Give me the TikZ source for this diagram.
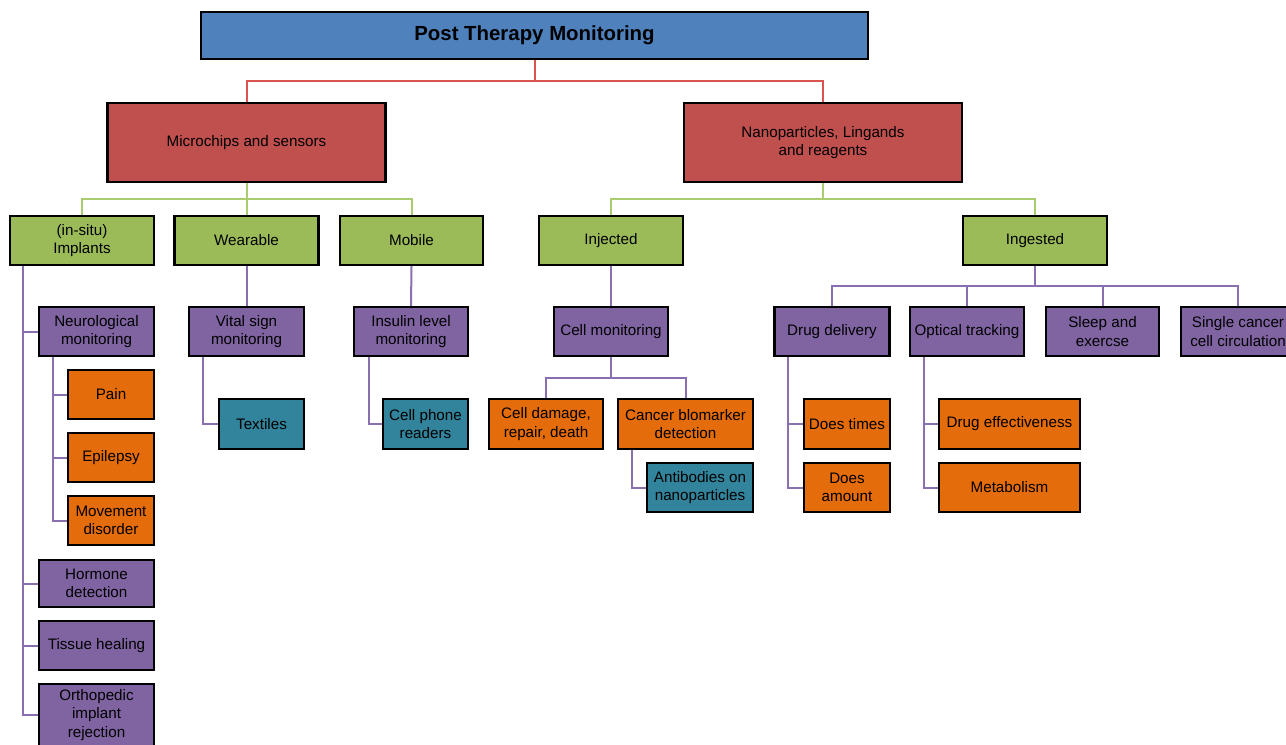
\documentclass[tikz,border=0pt]{standalone}
\usepackage{fontspec}
\setmainfont{Liberation Sans}
\definecolor{boxblue}{HTML}{4F81BD}
\definecolor{boxred}{HTML}{C0504D}
\definecolor{boxgreen}{HTML}{9BBB59}
\definecolor{boxpurple}{HTML}{8064A2}
\definecolor{boxorange}{HTML}{E46C0A}
\definecolor{boxteal}{HTML}{31849B}
\definecolor{linered}{HTML}{D9534F}
\definecolor{linegreen}{HTML}{A8CC6E}
\definecolor{linepurple}{HTML}{8A6FB0}

\tikzset{every picture/.style={line width=0.75pt}}
\tikzset{
  box/.style={draw=black, line width=1.8pt, inner sep=0pt, align=center,
    font=\fontsize{11.4}{13.7}\selectfont},
  boxsize/.style 2 args={minimum width=#1*0.75pt, minimum height=#2*0.75pt},
  bluebox/.style={box, fill=boxblue},
  redbox/.style={box, fill=boxred},
  greenbox/.style={box, fill=boxgreen},
  purplebox/.style={box, fill=boxpurple},
  orangebox/.style={box, fill=boxorange},
  tealbox/.style={box, fill=boxteal},
  redline/.style={draw=linered, line width=1.5pt},
  greenline/.style={draw=linegreen, line width=1.5pt},
  purpleline/.style={draw=linepurple, line width=1.5pt},
}

\begin{document}
\begin{tikzpicture}[x=0.75pt,y=0.75pt,yscale=-1,xscale=1]
	\useasboundingbox (0,0) rectangle (1286,744);
	\clip (0,0) rectangle (1286,744);

	%Bus points
	\coordinate (rbus) at (534.5,81);
	\coordinate (gbusl) at (246.5,199);
	\coordinate (gbusr) at (823,199);
	\coordinate (cbus) at (611,378);
	\coordinate (pbus) at (1035,286);

	%Shape: Rectangle [title]
	\node [bluebox, boxsize={667}{47}, font=\fontsize{15.3}{18}\selectfont\bfseries] (title) at (534.5,35.5) {Post Therapy Monitoring};

	%Shape: Rectangle [second level]
	\node [redbox, boxsize={278}{79}] (micro) at (246.5,142.5) {Microchips and sensors};
	\node [redbox, boxsize={278}{79}] (nano) at (823,142.5) {Nanoparticles, Lingands\\and reagents};

	%Shape: Rectangle [third level]
	\node [greenbox, boxsize={144}{49}] (implants) at (82,240.5) {(in-situ)\\Implants};
	\node [greenbox, boxsize={144}{49}] (wearable) at (246.5,240.5) {Wearable};
	\node [greenbox, boxsize={143}{49}] (mobile) at (411.5,240.5) {Mobile};
	\node [greenbox, boxsize={144}{49}] (injected) at (611,240.5) {Injected};
	\node [greenbox, boxsize={144}{49}] (ingested) at (1035,240.5) {Ingested};

	%Shape: Rectangle [implants branch]
	\node [purplebox, boxsize={115}{49}] (neuro) at (96.5,331.5) {Neurological\\monitoring};
	\node [orangebox, boxsize={86}{49}] (pain) at (111,394.5) {Pain};
	\node [orangebox, boxsize={86}{49}] (epilepsy) at (111,457.5) {Epilepsy};
	\node [orangebox, boxsize={86}{49}] (movement) at (111,520.5) {Movement\\disorder};
	\node [purplebox, boxsize={115}{47}] (hormone) at (96.5,583.5) {Hormone\\detection};
	\node [purplebox, boxsize={115}{49}] (tissue) at (96.5,645.5) {Tissue healing};
	\node [purplebox, boxsize={115}{62}] (ortho) at (96.5,715) {Orthopedic\\implant\\rejection};

	%Shape: Rectangle [wearable and mobile branch]
	\node [purplebox, boxsize={115}{49}] (vital) at (246.5,331.5) {Vital sign\\monitoring};
	\node [tealbox, boxsize={85}{50}] (textiles) at (261.5,424) {Textiles};
	\node [purplebox, boxsize={114}{49}] (insulin) at (411,331.5) {Insulin level\\monitoring};
	\node [tealbox, boxsize={85}{50}] (cellphone) at (425.5,424) {Cell phone\\readers};

	%Shape: Rectangle [injected branch]
	\node [purplebox, boxsize={114}{49}] (cellmon) at (611,331.5) {Cell monitoring};
	\node [orangebox, boxsize={114}{50}] (damage) at (546,424) {Cell damage,\\repair, death};
	\node [orangebox, boxsize={135}{50}] (cancer) at (685.5,424) {Cancer blomarker\\detection};
	\node [tealbox, boxsize={106}{49}] (antibodies) at (700,487.5) {Antibodies on\\nanoparticles};

	%Shape: Rectangle [ingested branch]
	\node [purplebox, boxsize={115}{49}] (drugdel) at (832,331.5) {Drug delivery};
	\node [purplebox, boxsize={114}{49}] (optical) at (967,331.5) {Optical tracking};
	\node [purplebox, boxsize={113}{49}] (sleep) at (1102.5,331.5) {Sleep and\\exercse};
	\node [purplebox, boxsize={114}{49}] (single) at (1238,331.5) {Single cancer\\cell circulation};
	\node [orangebox, boxsize={86}{50}] (doestimes) at (847,424) {Does times};
	\node [orangebox, boxsize={86}{49}] (doesamount) at (847,487.5) {Does\\amount};
	\node [orangebox, boxsize={141}{50}] (drugeff) at (1009.5,424) {Drug effectiveness};
	\node [orangebox, boxsize={141}{49}] (metab) at (1009.5,487.5) {Metabolism};

	%Connectors
	\draw [redline] (title.south) -- (rbus);
	\draw [redline] (micro.north) |- (rbus) -| (nano.north);

	\draw [greenline] (micro.south) -- (wearable.north);
	\draw [greenline] (implants.north) |- (gbusl) -| (mobile.north);
	\draw [greenline] (nano.south) -- (gbusr);
	\draw [greenline] (injected.north) |- (gbusr) -| (ingested.north);

	\draw [purpleline] ([xshift=10.5pt]implants.south west) |- (ortho.west);
	\draw [purpleline] ([xshift=10.5pt]implants.south west) |- (neuro.west);
	\draw [purpleline] ([xshift=10.5pt]implants.south west) |- (hormone.west);
	\draw [purpleline] ([xshift=10.5pt]implants.south west) |- (tissue.west);
	\draw [purpleline] ([xshift=11.25pt]neuro.south west) |- (movement.west);
	\draw [purpleline] ([xshift=11.25pt]neuro.south west) |- (pain.west);
	\draw [purpleline] ([xshift=11.25pt]neuro.south west) |- (epilepsy.west);

	\draw [purpleline] (wearable.south) -- (vital.north);
	\draw [purpleline] ([xshift=11.25pt]vital.south west) |- (textiles.west);
	\draw [purpleline] (mobile.south) -- (insulin.north);
	\draw [purpleline] ([xshift=12pt]insulin.south west) |- (cellphone.west);

	\draw [purpleline] (injected.south) -- (cellmon.north);
	\draw [purpleline] (cellmon.south) -- (cbus);
	\draw [purpleline] (damage.north) |- (cbus) -| (cancer.north);
	\draw [purpleline] ([xshift=11.25pt]cancer.south west) |- (antibodies.west);

	\draw [purpleline] (ingested.south) -- (pbus);
	\draw [purpleline] (drugdel.north) |- (pbus) -| (single.north);
	\draw [purpleline] (optical.north) |- (pbus);
	\draw [purpleline] (sleep.north) |- (pbus);
	\draw [purpleline] ([xshift=11pt]drugdel.south west) |- (doesamount.west);
	\draw [purpleline] ([xshift=11pt]drugdel.south west) |- (doestimes.west);
	\draw [purpleline] ([xshift=11.25pt]optical.south west) |- (metab.west);
	\draw [purpleline] ([xshift=11.25pt]optical.south west) |- (drugeff.west);

\end{tikzpicture}
\end{document}
